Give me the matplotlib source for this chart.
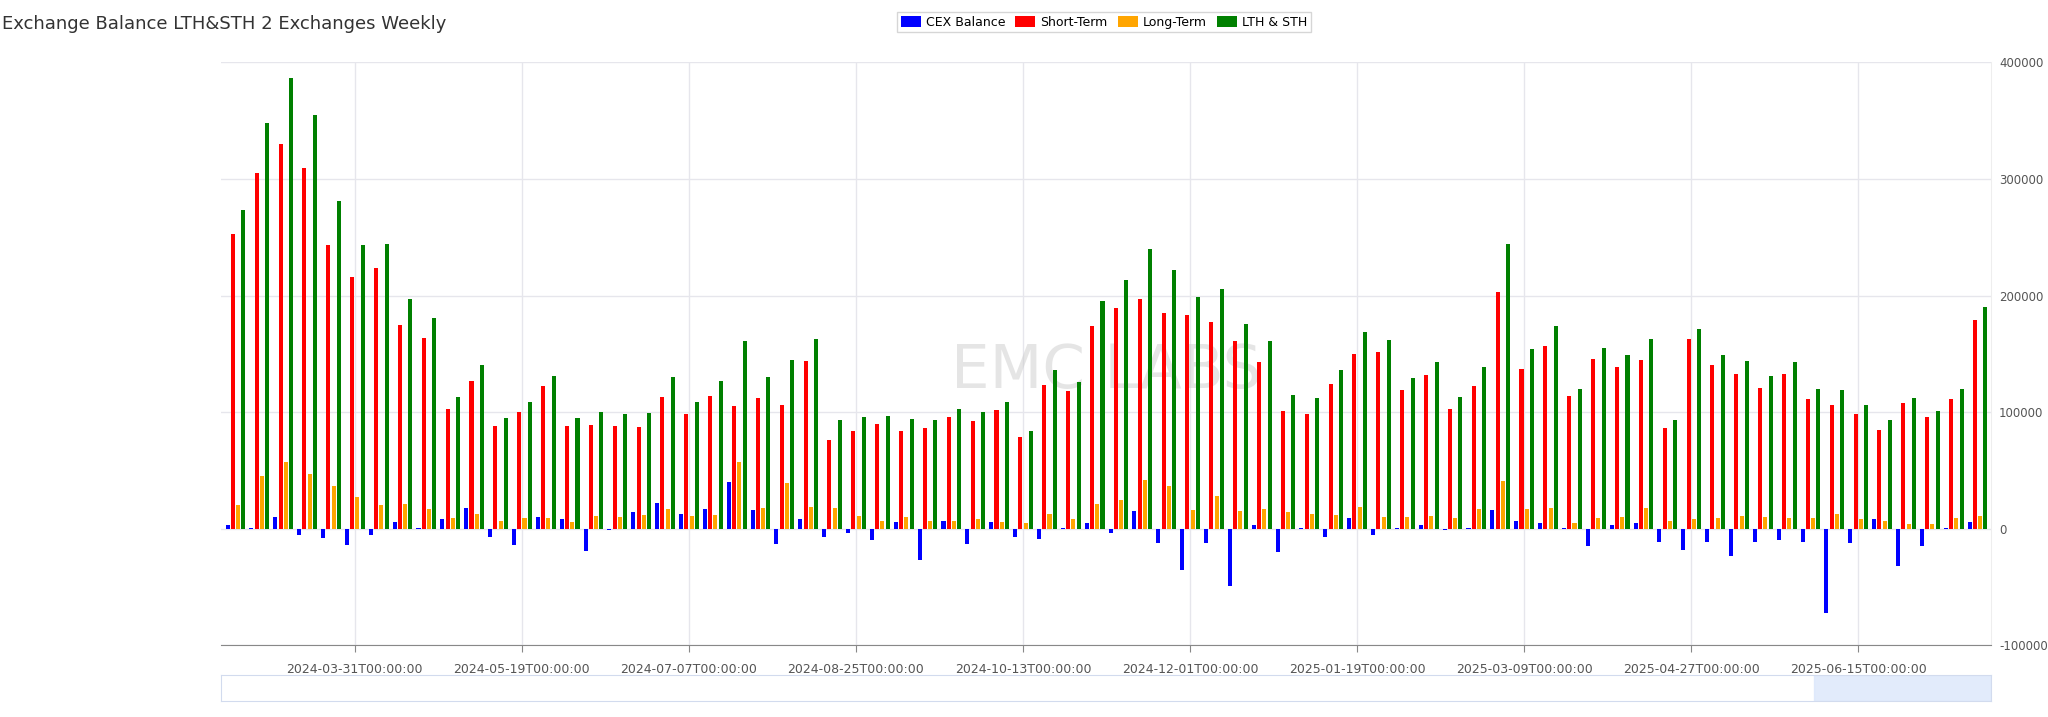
import numpy as np
import pandas as pd
import matplotlib
matplotlib.use("Agg")
import matplotlib.pyplot as plt
from matplotlib.patches import Patch

# weekly data
dates = pd.date_range("2024-02-25", periods=74, freq="7D")
cex_balance = [3e3, 1e3, 10e3, -5e3, -8e3, -14e3, -5e3, 6e3, 1e3, 8e3,
               18e3, -7e3, -14e3, 10e3, 8e3, -19e3, -1e3, 14e3, 22e3, 13e3,
               17e3, 40e3, 16e3, -13e3, 8e3, -7e3, -4e3, -10e3, 6e3, -27e3,
               7e3, -13e3, 6e3, -7e3, -9e3, 1e3, 5e3, -4e3, 15e3, -12e3,
               -35e3, -12e3, -49e3, 3e3, -20e3, 1e3, -7e3, 9e3, -5e3, 1e3,
               3e3, -1e3, 1e3, 16e3, 7e3, 5e3, 1e3, -15e3, 3e3, 5e3,
               -11e3, -18e3, -11e3, -23e3, -11e3, -10e3, -11e3, -72e3, -12e3, 8e3,
               -32e3, -15e3, 1e3, 6e3]
short_term = [253e3, 305e3, 330e3, 309e3, 243e3, 216e3, 224e3, 175e3, 164e3, 103e3,
              127e3, 88e3, 100e3, 122e3, 88e3, 89e3, 88e3, 87e3, 113e3, 98e3,
              114e3, 105e3, 112e3, 106e3, 144e3, 76e3, 84e3, 90e3, 84e3, 86e3,
              96e3, 92e3, 102e3, 79e3, 123e3, 118e3, 174e3, 189e3, 197e3, 185e3,
              183e3, 177e3, 161e3, 143e3, 101e3, 98e3, 124e3, 150e3, 152e3, 119e3,
              132e3, 103e3, 122e3, 203e3, 137e3, 157e3, 114e3, 146e3, 139e3, 145e3,
              86e3, 163e3, 140e3, 133e3, 121e3, 133e3, 111e3, 106e3, 98e3, 85e3,
              108e3, 96e3, 111e3, 179e3]
long_term = [20e3, 45e3, 57e3, 47e3, 37e3, 27e3, 20e3, 21e3, 17e3, 9e3,
             13e3, 7e3, 9e3, 9e3, 6e3, 11e3, 10e3, 12e3, 17e3, 11e3,
             12e3, 57e3, 18e3, 39e3, 19e3, 18e3, 11e3, 7e3, 10e3, 7e3,
             7e3, 8e3, 6e3, 5e3, 13e3, 8e3, 21e3, 25e3, 42e3, 37e3,
             16e3, 28e3, 15e3, 17e3, 14e3, 13e3, 12e3, 19e3, 10e3, 10e3,
             11e3, 9e3, 17e3, 41e3, 17e3, 18e3, 5e3, 9e3, 10e3, 18e3,
             7e3, 8e3, 9e3, 11e3, 10e3, 9e3, 9e3, 13e3, 8e3, 7e3,
             4e3, 4e3, 9e3, 11e3]
lth_sth = [273e3, 348e3, 387e3, 355e3, 281e3, 243e3, 244e3, 197e3, 181e3, 113e3,
           140e3, 95e3, 109e3, 131e3, 95e3, 100e3, 98e3, 99e3, 130e3, 109e3,
           127e3, 161e3, 130e3, 145e3, 163e3, 93e3, 96e3, 97e3, 94e3, 93e3,
           103e3, 100e3, 109e3, 84e3, 136e3, 126e3, 195e3, 213e3, 240e3, 222e3,
           199e3, 206e3, 176e3, 161e3, 115e3, 112e3, 136e3, 169e3, 162e3, 129e3,
           143e3, 113e3, 139e3, 244e3, 154e3, 174e3, 120e3, 155e3, 149e3, 163e3,
           93e3, 171e3, 149e3, 144e3, 131e3, 143e3, 120e3, 119e3, 106e3, 93e3,
           112e3, 101e3, 120e3, 190e3]

series = [("CEX Balance", cex_balance, "#0000ff"),
          ("Short-Term", short_term, "#ff0000"),
          ("Long-Term", long_term, "#ffa500"),
          ("LTH & STH", lth_sth, "#008000")]

fig = plt.figure(figsize=(20.48, 7.17), dpi=100)
ax = fig.add_axes([0.108, 0.100, 0.864, 0.813])

x = np.arange(len(dates))
w = 0.17
for i, (name, vals, col) in enumerate(series):
    ax.bar(x + (i - 1.5) * 1.3 * w, vals, width=w, color=col, zorder=3)

ax.set_xlim(-0.6, len(dates) - 0.45)
ax.set_ylim(-100000, 400000)
ax.yaxis.tick_right()
ax.set_yticks([-100000, 0, 100000, 200000, 300000, 400000])
ax.set_yticklabels(["-100000", "0", "100000", "200000", "300000", "400000"])
ticks = x[5::7]
ax.set_xticks(ticks)
ax.set_xticklabels([d.strftime("%Y-%m-%dT00:00:00") for d in dates[5::7]])
ax.tick_params(axis="x", labelsize=9, colors="#555555", length=5, color="#888888", pad=8)
ax.tick_params(axis="y", labelsize=8.5, colors="#555555", length=0, pad=6)
ax.grid(True, color="#e6e6ec", linewidth=1, zorder=0)
for s in ["top", "left"]:
    ax.spines[s].set_visible(False)
ax.spines["right"].set_color("#eeeeee")
ax.spines["bottom"].set_color("#888888")

ax.text(0.5, 0.47, "EMC LABS", transform=ax.transAxes, fontsize=44,
        color="#cccccc", alpha=0.5, ha="center", va="center", zorder=2)

fig.text(0.001, 0.967, "Exchange Balance LTH&STH 2 Exchanges Weekly",
         fontsize=13, color="#333333", va="center")

handles = [Patch(facecolor=c, label=n) for n, _, c in series]
fig.legend(handles=handles, loc="center", bbox_to_anchor=(0.539, 0.969), ncol=4,
           fontsize=9, frameon=True, edgecolor="#cccccc", fancybox=False,
           handlelength=1.6, handleheight=0.9, columnspacing=0.8, handletextpad=0.4,
           borderpad=0.3)

# data-zoom slider
sl = fig.add_axes([0.108, 0.022, 0.864, 0.036])
sl.set_xlim(0, 1)
sl.set_ylim(0, 1)
sl.axvspan(0.90, 1.0, color="#dbe6fb", alpha=0.8)
sl.set_xticks([])
sl.set_yticks([])
for s in sl.spines.values():
    s.set_color("#d2dbee")

fig.savefig("out.png", dpi=100)
